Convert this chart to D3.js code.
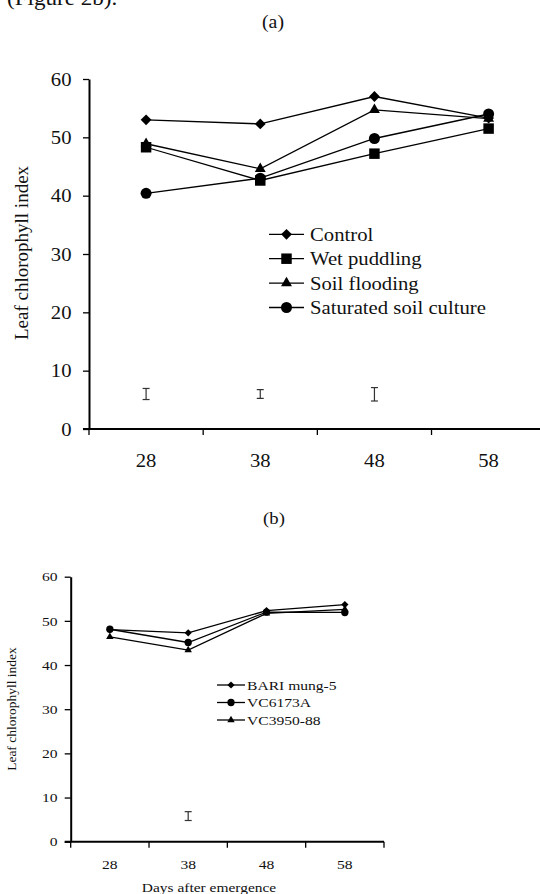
<!DOCTYPE html>
<html>
<head>
<meta charset="utf-8">
<script src="https://cdn.jsdelivr.net/npm/d3@7"></script>
<style>
  body { margin: 0; background: #fff; }
</style>
</head>
<body>
<div id="chart"></div>
<script>
// data
var days = [28, 38, 48, 58];
var yTicks = [0, 10, 20, 30, 40, 50, 60];

// (a) water regimes
var namesA = ["Control", "Wet puddling", "Soil flooding", "Saturated soil culture"];
var control = [53.0, 52.3, 57.0, 53.3];
var wetPuddling = [48.3, 42.6, 47.2, 51.5];
var soilFlooding = [48.9, 44.6, 54.7, 53.2];
var saturated = [40.4, 43.0, 49.8, 54.0];
var lsdDaysA = [28, 38, 48];
var lsdMidA = [6.0, 6.0, 5.95];
var lsdHalfA = [0.95, 0.75, 1.15];

// (b) varieties
var namesB = ["BARI mung-5", "VC6173A", "VC3950-88"];
var bari = [48.0, 47.3, 52.3, 53.7];
var vc6173 = [48.1, 45.1, 52.0, 51.9];
var vc3950 = [46.4, 43.4, 51.7, 52.6];
var lsdDaysB = [38];
var lsdMidB = [5.8];
var lsdHalfB = [1.0];

var SERIF = '"Liberation Serif", "Times New Roman", Times, serif';
var W = 540, H = 894;
var svg = d3.select("#chart").append("svg")
  .attr("width", W).attr("height", H)
  .style("font-family", SERIF);

function stxt(x, y, str, size, sx, anchor) {
  return svg.append("text")
    .attr("transform", "translate(" + x + "," + y + ") scale(" + sx + ",1)")
    .attr("text-anchor", anchor || "middle")
    .style("font-family", SERIF)
    .style("font-size", size + "px")
    .attr("fill", "#111")
    .text(str);
}

function marker(g, type, x, y, s) {
  if (type == "diamond") {
    g.append("path")
      .attr("d", d3.symbol(d3.symbolSquare, s)())
      .attr("transform", "translate(" + x + "," + y + ") rotate(45)")
      .attr("fill", "#000");
  } else {
    var sym = { square: d3.symbolSquare, triangle: d3.symbolTriangle, circle: d3.symbolCircle }[type];
    g.append("path")
      .attr("d", d3.symbol(sym, s)())
      .attr("transform", "translate(" + x + "," + y + ")")
      .attr("fill", "#000");
  }
}

function panel(o) {
  var x = d3.scaleBand().domain(days).range(o.xr);
  var y = d3.scaleLinear().domain([0, 60]).range(o.yr);
  var g = svg.append("g");
  var half = x.bandwidth() / 2;

  // y axis
  var ya = g.append("g")
    .attr("transform", "translate(" + o.xr[0] + ",0)")
    .call(d3.axisLeft(y).tickValues(yTicks).tickSize(6).tickSizeOuter(0).tickPadding(o.yPad));
  ya.attr("font-family", null).attr("font-size", null);
  ya.select(".domain").attr("stroke-width", o.axisW).attr("stroke", "#000");
  ya.selectAll(".tick line").attr("stroke-width", 1.3);
  ya.selectAll("text")
    .style("font-family", SERIF).style("font-size", o.font + "px").attr("fill", "#111")
    .attr("transform", "scale(" + o.sx + ",1)");

  // x axis
  var xa = g.append("g")
    .attr("transform", "translate(0," + o.yr[0] + ")")
    .call(d3.axisBottom(x).tickSize(0).tickSizeOuter(0).tickPadding(o.xPad));
  xa.attr("font-family", null).attr("font-size", null);
  xa.select(".domain").attr("stroke-width", o.axisW).attr("stroke", "#000")
    .attr("d", "M" + (o.xr[0] - 6) + ",0H" + o.xr[1]);
  xa.selectAll("text")
    .style("font-family", SERIF).style("font-size", o.font + "px").attr("fill", "#111")
    .attr("transform", "scale(" + o.sx + ",1)");
  var bounds = days.map(function (d) { return x(d); }).concat([x.range()[1]]);
  g.selectAll(".xt").data(bounds).enter().append("line")
    .attr("x1", function (d) { return d; }).attr("x2", function (d) { return d; })
    .attr("y1", o.yr[0]).attr("y2", o.yr[0] + 6)
    .attr("stroke", "#000").attr("stroke-width", 1.3);

  // lsd bars
  o.lsdDays.forEach(function (d, i) {
    var cx = x(d) + half;
    var y1 = y(o.lsdMid[i] + o.lsdHalf[i]), y2 = y(o.lsdMid[i] - o.lsdHalf[i]);
    var eb = g.append("g").attr("stroke", "#333").attr("stroke-width", 1.2);
    eb.append("line").attr("x1", cx).attr("x2", cx).attr("y1", y1).attr("y2", y2);
    eb.append("line").attr("x1", cx - 3.5).attr("x2", cx + 3.5).attr("y1", y1).attr("y2", y1);
    eb.append("line").attr("x1", cx - 3.5).attr("x2", cx + 3.5).attr("y1", y2).attr("y2", y2);
  });

  // series
  var line = d3.line()
    .x(function (d, i) { return x(days[i]) + half; })
    .y(function (d) { return y(d); });
  o.series.forEach(function (s) {
    g.append("path").datum(s.values)
      .attr("d", line).attr("fill", "none")
      .attr("stroke", "#000").attr("stroke-width", 1.3);
  });
  o.series.forEach(function (s) {
    s.values.forEach(function (v, i) {
      marker(g, s.type, x(days[i]) + half, y(v), o.msize[s.type]);
    });
  });

  // legend
  o.series.forEach(function (s, i) {
    var ly = o.leg.y + i * o.leg.dy;
    g.append("line").attr("x1", o.leg.x1).attr("x2", o.leg.x2)
      .attr("y1", ly).attr("y2", ly).attr("stroke", "#000").attr("stroke-width", 1.3);
    marker(g, s.type, (o.leg.x1 + o.leg.x2) / 2, ly, o.msize[s.type]);
    stxt(o.leg.tx, ly + o.leg.base, s.name, o.leg.font, o.sx, "start");
  });
}

// top text, cut by the crop as in the source page
stxt(7, 5, "(Figure 2b).", 22, 1.05, "start");

// (a)
stxt(273, 28, "(a)", 18, 1.1);
svg.append("text")
  .attr("transform", "translate(28,253) rotate(-90)")
  .attr("text-anchor", "middle")
  .style("font-family", SERIF).style("font-size", "19px").attr("fill", "#111")
  .text("Leaf chlorophyll index");

panel({
  xr: [89, 545.7], yr: [429, 79],
  font: 19, sx: 1.09, yPad: 10, xPad: 25, axisW: 2,
  series: [
    { name: namesA[0], values: control, type: "diamond" },
    { name: namesA[1], values: wetPuddling, type: "square" },
    { name: namesA[2], values: soilFlooding, type: "triangle" },
    { name: namesA[3], values: saturated, type: "circle" }
  ],
  msize: { diamond: 58, square: 110, triangle: 52, circle: 95 },
  lsdDays: lsdDaysA, lsdMid: lsdMidA, lsdHalf: lsdHalfA,
  leg: { x1: 269, x2: 304, tx: 310, y: 234.3, dy: 24.4, base: 6.5, font: 19 }
});

// (b)
stxt(274, 523.5, "(b)", 17, 1.1);
svg.append("text")
  .attr("transform", "translate(16,709) rotate(-90)")
  .attr("text-anchor", "middle")
  .style("font-family", SERIF).style("font-size", "13.5px").attr("fill", "#111")
  .text("Leaf chlorophyll index");

panel({
  xr: [70.7, 384], yr: [841.7, 576.7],
  font: 13, sx: 1.2, yPad: 5, xPad: 18, axisW: 2,
  series: [
    { name: namesB[0], values: bari, type: "diamond" },
    { name: namesB[1], values: vc6173, type: "circle" },
    { name: namesB[2], values: vc3950, type: "triangle" }
  ],
  msize: { diamond: 26, square: 40, triangle: 24, circle: 42 },
  lsdDays: lsdDaysB, lsdMid: lsdMidB, lsdHalf: lsdHalfB,
  leg: { x1: 217, x2: 245, tx: 247, y: 685, dy: 17.5, base: 4.5, font: 13 }
});

stxt(209, 892, "Days after emergence", 13, 1.19);
</script>
</body>
</html>
